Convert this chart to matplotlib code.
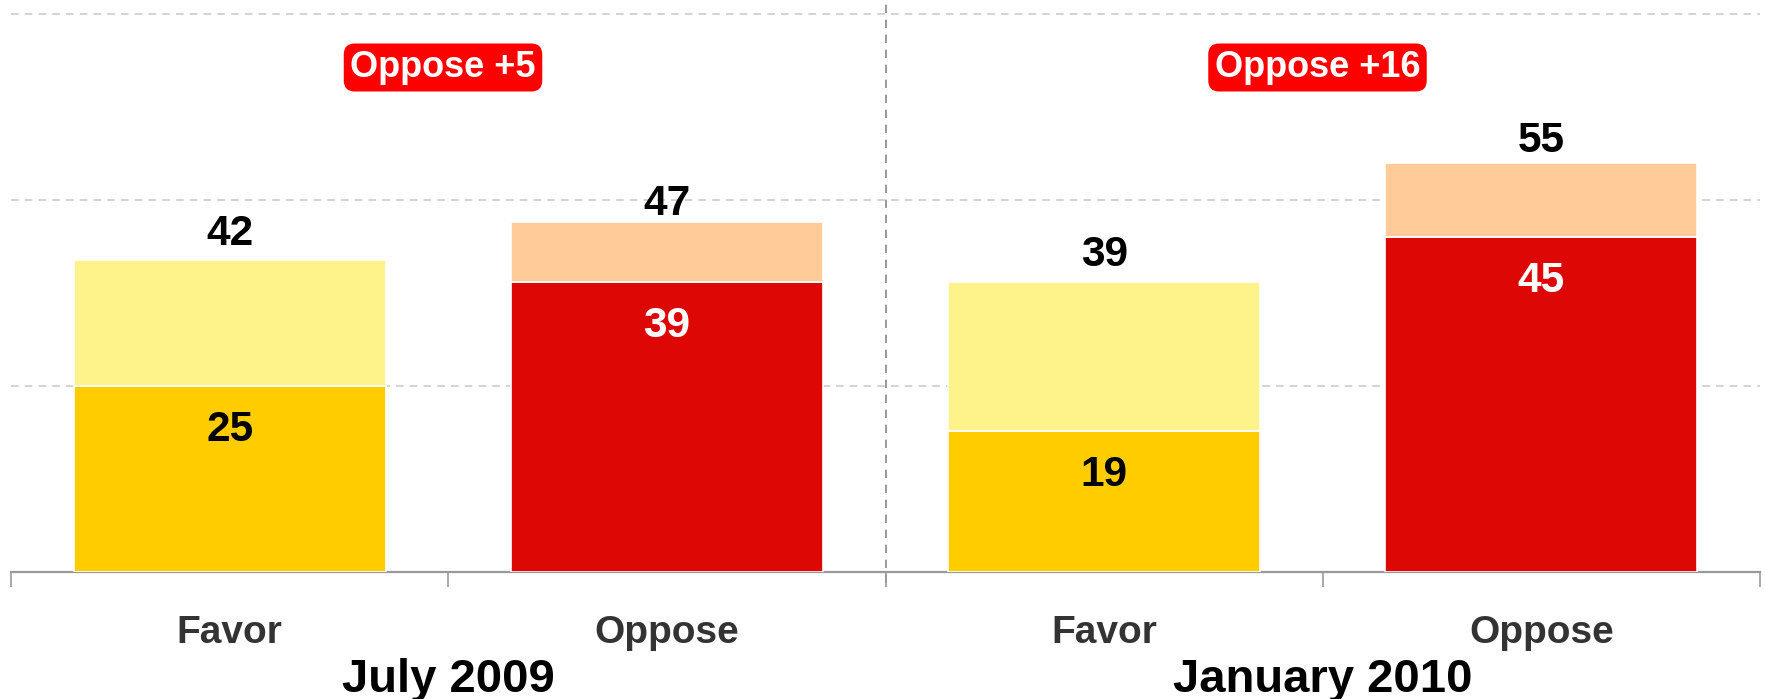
import matplotlib
matplotlib.use("Agg")
import matplotlib.pyplot as plt
import numpy as np

plt.rcParams['font.family'] = ['Liberation Sans', 'DejaVu Sans']

# ---- data ----
periods = ['July 2009', 'January 2010']
categories = ['Favor', 'Oppose', 'Favor', 'Oppose']
strong = [25, 39, 19, 45]          # strongly favor / strongly oppose
total = [42, 47, 39, 55]           # total favor / oppose
lead_labels = ['Oppose +5', 'Oppose +16']

# ---- styles ----
strong_colors = ['#FFCC00', '#DD0806', '#FFCC00', '#DD0806']
light_colors = ['#FEF38B', '#FECB99', '#FEF38B', '#FECB99']
inner_text_colors = ['black', 'white', 'black', 'white']
top_gap_px = [15, 7, 16, 11]

W, H, DPI = 1766, 699, 100
fig = plt.figure(figsize=(W / DPI, H / DPI), dpi=DPI)
ax = fig.add_axes([11 / W, 127 / H, 1749 / W, 572 / H])

x = np.arange(len(categories))
light = [t - s for t, s in zip(total, strong)]
ax.bar(x, strong, width=0.714, color=strong_colors, edgecolor='white', linewidth=1.2, zorder=3)
ax.bar(x, light, bottom=strong, width=0.714, color=light_colors, edgecolor='white', linewidth=1.2, zorder=3)

ax.set_xlim(-0.5, len(categories) - 0.5)
ax.set_ylim(0, 76.9)

pt = 72 / DPI
for i in range(len(categories)):
    ax.annotate(str(total[i]), xy=(x[i], total[i]), xytext=(0, top_gap_px[i] * pt),
                textcoords='offset points', ha='center', va='baseline',
                fontsize=30.5, fontweight='bold', color='black', zorder=5)
    ax.annotate(str(strong[i]), xy=(x[i], strong[i]), xytext=(0, -44 * pt),
                textcoords='offset points', ha='center', va='center',
                fontsize=30.5, fontweight='bold', color=inner_text_colors[i], zorder=5)

# gridlines
ax.set_yticks([25, 50, 75])
ax.yaxis.grid(True, color='#C8C8C8', linestyle=(0, (5, 4)), linewidth=1.1, zorder=0)
ax.tick_params(axis='y', left=False, labelleft=False)

# x axis: category labels, boundary ticks
ax.set_xticks(x)
ax.set_xticklabels(categories, fontsize=28, fontweight='bold', color='#333333')
ax.tick_params(axis='x', which='major', length=0, pad=31)
ax.set_xticks(np.arange(-0.5, len(categories), 1.0), minor=True)
ax.tick_params(axis='x', which='minor', length=11, width=1.2, color='#999999')

for s in ['top', 'right', 'left']:
    ax.spines[s].set_visible(False)
ax.spines['bottom'].set_color('#999999')
ax.spines['bottom'].set_linewidth(1.6)

# separator between periods
ax.axvline(1.5, ymin=-11 / 572, ymax=1, color='#888888', linestyle=(0, (5, 4)),
           linewidth=1.2, clip_on=False, zorder=1)

# period labels and lead badges
for g, (period, lead) in enumerate(zip(periods, lead_labels)):
    cx = 2 * g + 0.5
    ax.annotate(period, xy=(cx, 0), xycoords=('data', 'axes fraction'),
                xytext=(0, -120 * pt), textcoords='offset points',
                ha='center', va='baseline', fontsize=34, fontweight='bold',
                color='black', annotation_clip=False)
    ax.annotate(lead, xy=(cx - 0.012, 0.882), xycoords=('data', 'axes fraction'),
                ha='center', va='center', fontsize=26, fontweight='bold', color='white',
                bbox=dict(boxstyle='round,pad=0.18,rounding_size=0.3', fc='#FF0000', ec='none'),
                zorder=6)

fig.savefig('out.png', dpi=DPI, facecolor='white')
